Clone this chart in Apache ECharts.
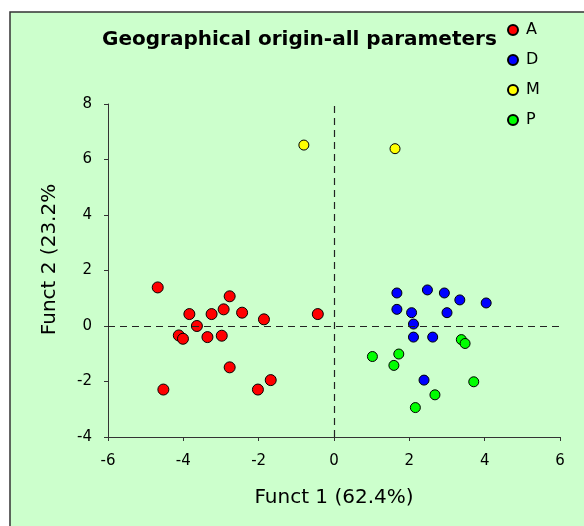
<!DOCTYPE html>
<html>
<head>
<meta charset="utf-8">
<script src="https://cdn.jsdelivr.net/npm/echarts@6/dist/echarts.min.js"></script>
<style>
  html, body { margin: 0; padding: 0; background: #ffffff; }
  #chart { width: 584px; height: 526px; }
</style>
</head>
<body>
<div id="chart"></div>
<script>
// Discriminant function scores by geographical origin
const groupNames = ['A', 'D', 'M', 'P'];
const groupColors = ['#ff0000', '#0000ff', '#ffff00', '#00ff00'];

const funct1A = [-4.68, -4.53, -4.12, -4.01, -3.84, -3.64, -3.36, -3.25, -2.98, -2.93, -2.77, -2.77, -2.44, -1.86, -2.02, -1.68, -0.43];
const funct2A = [1.39, -2.29, -0.34, -0.46, 0.43, 0.00, -0.40, 0.43, -0.35, 0.60, 1.07, -1.49, 0.48, 0.24, -2.29, -1.95, 0.43];

const funct1D = [1.67, 2.48, 2.93, 3.34, 4.04, 1.67, 2.06, 3.00, 2.11, 2.11, 2.62, 2.39];
const funct2D = [1.19, 1.30, 1.19, 0.94, 0.83, 0.60, 0.48, 0.48, 0.07, -0.40, -0.40, -1.95];

const funct1M = [-0.80, 1.62];
const funct2M = [6.52, 6.39];

const funct1P = [1.02, 1.72, 1.59, 3.38, 3.48, 3.71, 2.68, 2.16];
const funct2P = [-1.10, -1.01, -1.42, -0.49, -0.63, -2.01, -2.48, -2.94];

const xTicks = [-6, -4, -2, 0, 2, 4, 6];
const yTicks = [-4, -2, 0, 2, 4, 6, 8];

const groupX = [funct1A, funct1D, funct1M, funct1P];
const groupY = [funct2A, funct2D, funct2M, funct2P];
const symbolSizes = [11, 10, 10, 10];

const FONT = 'DejaVu Sans';

function pairs(xs, ys) {
  return xs.map((x, i) => [x, ys[i]]);
}

const series = groupNames.map((name, g) => ({
  name: name,
  type: 'scatter',
  symbol: 'circle',
  symbolSize: symbolSizes[g],
  data: pairs(groupX[g], groupY[g]),
  itemStyle: { color: groupColors[g], borderColor: '#000', borderWidth: 1, opacity: 1 },
  emphasis: { disabled: true }
}));

// Dashed reference lines through the origin
series[0].markLine = {
  silent: true,
  symbol: ['none', 'none'],
  label: { show: false },
  animation: false,
  lineStyle: { color: '#222', type: [7, 5], width: 1.2 },
  data: [{ xAxis: 0 }, { yAxis: 0 }]
};

const chart = echarts.init(document.getElementById('chart'), null, { renderer: 'canvas' });
chart.setOption({
  animation: false,
  backgroundColor: 'transparent',
  graphic: [{
    type: 'rect',
    silent: true,
    z: -10,
    shape: { x: 10, y: 12, width: 620, height: 560 },
    style: { fill: '#ccffcc', stroke: '#333', lineWidth: 1.5 }
  }],
  title: {
    text: 'Geographical origin-all parameters',
    left: 102,
    top: 30,
    padding: 0,
    textStyle: { fontFamily: FONT, fontWeight: 'bold', fontSize: 20, color: '#000' }
  },
  legend: {
    orient: 'vertical',
    left: 507,
    top: 22,
    padding: 0,
    itemWidth: 10,
    itemHeight: 10,
    itemGap: 14,
    icon: 'circle',
    data: groupNames,
    textStyle: { fontFamily: FONT, fontSize: 16, color: '#000', padding: [0, 0, 0, 3] }
  },
  grid: { left: 108, right: 24, top: 104, bottom: 89, outerBoundsMode: 'none' },
  xAxis: {
    type: 'value',
    min: xTicks[0],
    max: xTicks[xTicks.length - 1],
    interval: 2,
    name: 'Funct 1 (62.4%)',
    nameLocation: 'middle',
    nameGap: 51,
    nameTextStyle: { fontFamily: FONT, fontSize: 20, color: '#000' },
    axisLine: { onZero: false, lineStyle: { color: '#333', width: 1 } },
    axisTick: { show: true, length: 4, inside: false, lineStyle: { color: '#333' } },
    axisLabel: { fontFamily: FONT, fontSize: 15, color: '#000', margin: 17 },
    splitLine: { show: false }
  },
  yAxis: {
    type: 'value',
    min: yTicks[0],
    max: yTicks[yTicks.length - 1],
    interval: 2,
    name: 'Funct 2 (23.2%',
    nameLocation: 'middle',
    nameRotate: 90,
    nameGap: 48,
    nameTextStyle: { fontFamily: FONT, fontSize: 20, color: '#000', padding: [0, 0, 0, 22] },
    axisLine: { onZero: false, lineStyle: { color: '#333', width: 1 } },
    axisTick: { show: true, length: 4, inside: false, lineStyle: { color: '#333' } },
    axisLabel: { fontFamily: FONT, fontSize: 15, color: '#000', margin: 16 },
    splitLine: { show: false }
  },
  series: series
});
</script>
</body>
</html>
